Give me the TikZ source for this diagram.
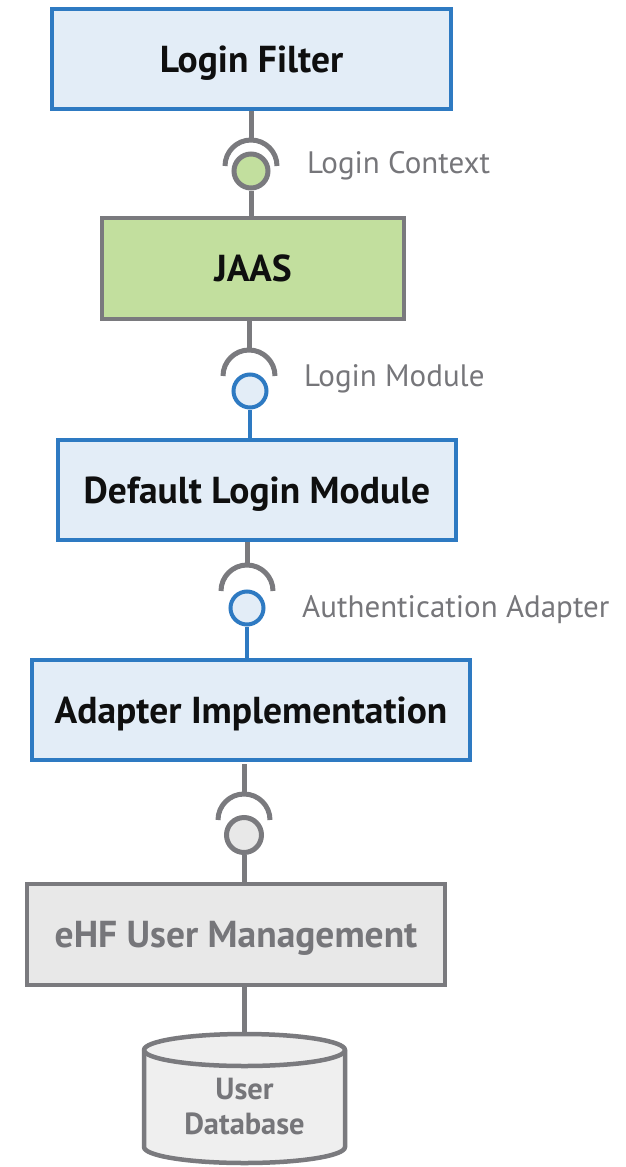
\documentclass[tikz,border=0pt]{standalone}
\usepackage{fontspec}
\setmainfont{PT Sans}
\usetikzlibrary{calc}
\definecolor{blueS}{RGB}{46,122,194}
\definecolor{blueF}{RGB}{227,237,247}
\definecolor{greenF}{RGB}{194,223,158}
\definecolor{grayS}{RGB}{122,122,126}
\definecolor{grayT}{RGB}{118,118,122}
\definecolor{grayF}{RGB}{232,232,232}
\definecolor{txt}{RGB}{15,15,15}
\tikzset{
  box/.style={rectangle, line width=4pt, inner sep=0pt, text height=26pt, text depth=0pt,
    font=\fontsize{37.5}{40}\selectfont\bfseries, text=txt},
  bluebox/.style={box, draw=blueS, fill=blueF},
  greenbox/.style={box, draw=grayS, fill=greenF, line width=4.5pt},
  graybox/.style={box, draw=grayS, fill=grayF, line width=4.5pt, text=grayT},
  gline/.style={draw=grayS, line width=5pt},
  bline/.style={draw=blueS, line width=4pt},
  ballg/.style={circle, inner sep=0pt, minimum size=34pt, draw=grayS, line width=5pt},
  ballb/.style={circle, inner sep=0pt, minimum size=33pt, draw=blueS, line width=4pt, fill=blueF},
  lbl/.style={anchor=base west, inner sep=0pt, text=grayT, font=\fontsize{31}{34}\selectfont},
}
\begin{document}
\begin{tikzpicture}[x=1pt,y=1pt]
\useasboundingbox (0,0) rectangle (626,-1167);
% boxes
\node[bluebox, minimum width=399pt, minimum height=100pt] (lf) at (251.5,-59) {Login Filter};
\node[greenbox, minimum width=302pt, minimum height=101pt] (jaas) at (253,-268.5) {JAAS};
\node[bluebox, minimum width=398pt, minimum height=100pt] (dlm) at (257,-490) {Default Login Module};
\node[bluebox, minimum width=438pt, minimum height=100pt] (ai) at (251,-710) {Adapter Implementation};
\node[graybox, minimum width=418pt, minimum height=101pt] (ehf) at (236,-934.5) {eHF User Management};
% sockets (centres)
\coordinate (s1) at (251,-166);
\coordinate (s2) at (249,-376);
\coordinate (s3) at (247,-591);
\coordinate (s4) at (244,-820);
\coordinate (t1) at (251,-140);
\coordinate (t2) at (249,-350);
\coordinate (t3) at (247,-565);
\coordinate (t4) at (244,-794);
% balls
\node[ballg, fill=greenF] (b1) at (251,-171) {};
\node[ballb] (b2) at (250,-391) {};
\node[ballb] (b3) at (247,-608) {};
\node[ballg, fill=grayF, minimum size=35pt] (b4) at (244,-835) {};
% lines box -> socket
\draw[gline] (t1 |- lf.south) -- (t1);
\draw[gline] (t2 |- jaas.south) -- (t2);
\draw[gline] (t3 |- dlm.south) -- (t3);
\draw[gline] ($(t4 |- ai.south)+(0,-2)$) -- (t4);
% socket arcs
\draw[gline] ($(s1)+(-26,0)$) arc (180:0:26);
\draw[gline] ($(s2)+(-26,0)$) arc (180:0:26);
\draw[gline] ($(s3)+(-26,0)$) arc (180:0:26);
\draw[gline] ($(s4)+(-26,0)$) arc (180:0:26);
% ball -> box lines
\draw[gline] (b1.south) -- (b1.south |- jaas.north);
\draw[bline] (b2.south) -- (b2.south |- dlm.north);
\draw[bline] (b3.south) -- (b3.south |- ai.north);
\draw[gline] (b4.south) -- (b4.south |- ehf.north);
% labels
\node[lbl] (l1) at (307,-173) {Login Context};
\node[lbl] (l2) at (304,-386) {Login Module};
\node[lbl] (l3) at (302,-617) {Authentication Adapter};
% database
\coordinate (dbtop) at (244.5,-1034);
\draw[gline] (dbtop |- ehf.south) -- (dbtop);
\filldraw[draw=grayS, fill=grayF!70!white, line width=4.5pt]
  (144,-1050) -- (144,-1147) arc (180:360:100.5 and 16) -- (345,-1050) arc (0:180:100.5 and 16) -- cycle;
\draw[draw=grayS, line width=4.5pt] (144,-1050) arc (180:360:100.5 and 16);
\node[align=center, inner sep=0pt, text=grayT, font=\fontsize{30.5}{35}\selectfont\bfseries] (db) at (244.5,-1107) {User\\Database};
\end{tikzpicture}
\end{document}
